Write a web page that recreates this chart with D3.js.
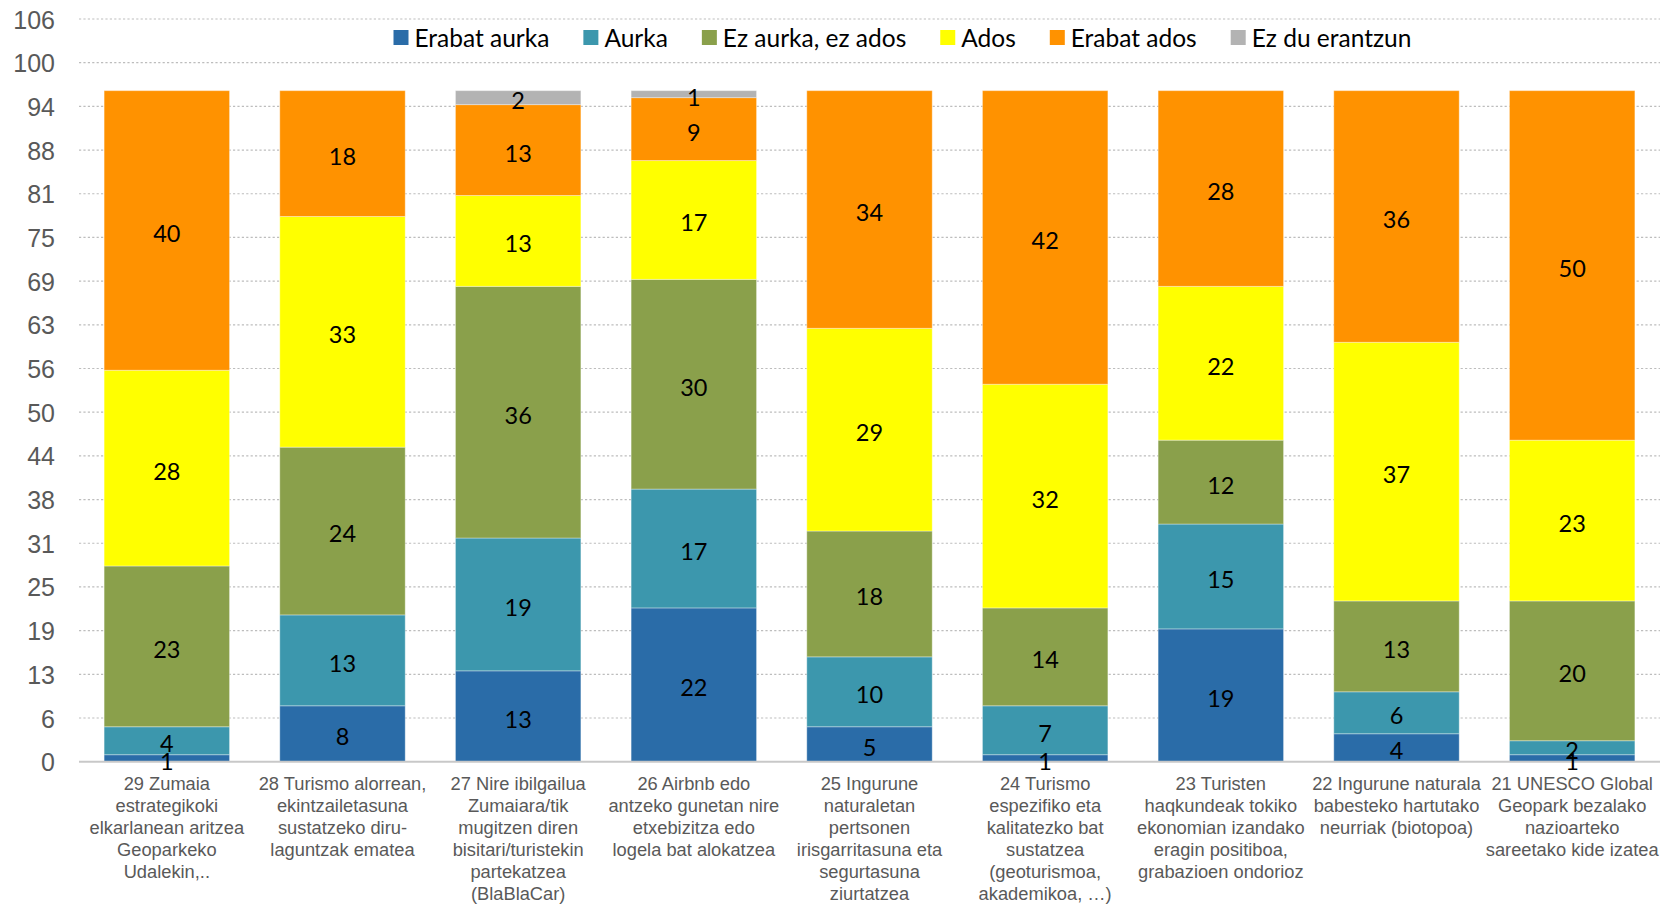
<!DOCTYPE html>
<html>
<head>
<meta charset="utf-8">
<script src="https://cdn.jsdelivr.net/npm/d3@7"></script>
<style>
  html, body { margin: 0; padding: 0; background: #fff; }
  svg { display: block; }
</style>
</head>
<body>
<svg id="chart" width="1661" height="905"></svg>
<script>
// ---- Data ----
const categories = [
  "29 Zumaia estrategikoki elkarlanean aritzea Geoparkeko Udalekin,..",
  "28 Turismo alorrean, ekintzailetasuna sustatzeko diru-laguntzak ematea",
  "27 Nire ibilgailua Zumaiara/tik mugitzen diren bisitari/turistekin partekatzea (BlaBlaCar)",
  "26 Airbnb edo antzeko gunetan nire etxebizitza edo logela bat alokatzea",
  "25 Ingurune naturaletan pertsonen irisgarritasuna eta segurtasuna ziurtatzea",
  "24 Turismo espezifiko eta kalitatezko bat sustatzea (geoturismoa, akademikoa, …)",
  "23 Turisten haqkundeak tokiko ekonomian izandako eragin positiboa, grabazioen ondorioz",
  "22 Ingurune naturala babesteko hartutako neurriak (biotopoa)",
  "21 UNESCO Global Geopark bezalako nazioarteko sareetako kide izatea"
];
const categoryLines = [
  ["29 Zumaia", "estrategikoki", "elkarlanean aritzea", "Geoparkeko", "Udalekin,.."],
  ["28 Turismo alorrean,", "ekintzailetasuna", "sustatzeko diru-", "laguntzak ematea"],
  ["27 Nire ibilgailua", "Zumaiara/tik", "mugitzen diren", "bisitari/turistekin", "partekatzea", "(BlaBlaCar)"],
  ["26 Airbnb edo", "antzeko gunetan nire", "etxebizitza edo", "logela bat alokatzea"],
  ["25 Ingurune", "naturaletan", "pertsonen", "irisgarritasuna eta", "segurtasuna", "ziurtatzea"],
  ["24 Turismo", "espezifiko eta", "kalitatezko bat", "sustatzea", "(geoturismoa,", "akademikoa, …)"],
  ["23 Turisten", "haqkundeak tokiko", "ekonomian izandako", "eragin positiboa,", "grabazioen ondorioz"],
  ["22 Ingurune naturala", "babesteko hartutako", "neurriak (biotopoa)"],
  ["21 UNESCO Global", "Geopark bezalako", "nazioarteko", "sareetako kide izatea"]
];
const seriesNames = ["Erabat aurka", "Aurka", "Ez aurka, ez ados", "Ados", "Erabat ados", "Ez du erantzun"];
const erabatAurka  = [1, 8, 13, 22, 5, 1, 19, 4, 1];
const aurka        = [4, 13, 19, 17, 10, 7, 15, 6, 2];
const ezAurkaEzAdos= [23, 24, 36, 30, 18, 14, 12, 13, 20];
const ados         = [28, 33, 13, 17, 29, 32, 22, 37, 23];
const erabatAdos   = [40, 18, 13, 9, 34, 42, 28, 36, 50];
const ezDuErantzun = [0, 0, 2, 1, 0, 0, 0, 0, 0];
const seriesColors = ["#2A6CA8", "#3C97AD", "#8AA04B", "#FFFF00", "#FF9200", "#B3B3B3"];
const yTicks = [0, 6.25, 12.5, 18.75, 25, 31.25, 37.5, 43.75, 50, 56.25, 62.5, 68.75, 75, 81.25, 87.5, 93.75, 100, 106.25];
const yTickLabels = ["0","6","13","19","25","31","38","44","50","56","63","69","75","81","88","94","100","106"];

// ---- Build table ----
const seriesValues = [erabatAurka, aurka, ezAurkaEzAdos, ados, erabatAdos, ezDuErantzun];
const table = categories.map((c, i) => {
  const row = { cat: c };
  seriesNames.forEach((s, j) => row[s] = seriesValues[j][i]);
  return row;
});
const stacked = d3.stack().keys(seriesNames)(table);

// ---- Layout ----
const svg = d3.select("#chart");
const plotLeft = 79, plotRight = 1660, plotTop = 19, plotBottom = 761.7;

const x = d3.scaleBand().domain(categories).range([plotLeft, plotRight])
  .paddingInner(0.286).paddingOuter(0.143);
const y = d3.scaleLinear().domain([0, 106.25]).range([plotBottom, plotTop]);

// gridlines
svg.append("g").selectAll("line").data(yTicks.slice(1)).join("line")
  .attr("x1", plotLeft).attr("x2", plotRight)
  .attr("y1", d => y(d)).attr("y2", d => y(d))
  .attr("stroke", "#BDBDBD").attr("stroke-width", 1.2)
  .attr("stroke-dasharray", "2.2,2.2");

// y axis labels
const yAxis = d3.axisLeft(y).tickValues(yTicks)
  .tickFormat((d, i) => yTickLabels[i]).tickSize(0).tickPadding(0);
const gy = svg.append("g").attr("transform", `translate(55,0)`).call(yAxis);
gy.select(".domain").remove();
gy.selectAll("text")
  .attr("font-family", "'Liberation Sans', Arial, sans-serif")
  .attr("font-size", "25px").attr("fill", "#595959")
  .attr("dy", "0.36em");

// bars
const layers = svg.append("g").selectAll("g").data(stacked).join("g")
  .attr("fill", (d, i) => seriesColors[i]);
layers.selectAll("rect").data(d => d).join("rect")
  .attr("x", d => x(d.data.cat))
  .attr("width", x.bandwidth())
  .attr("y", d => y(d[1]))
  .attr("height", d => Math.max(0, y(d[0]) - y(d[1])))
  .attr("stroke", "rgba(255,255,255,0.35)")
  .attr("stroke-width", 1);

// x axis baseline
svg.append("line")
  .attr("x1", plotLeft).attr("x2", plotRight)
  .attr("y1", y(0)).attr("y2", y(0))
  .attr("stroke", "#C8C8C8").attr("stroke-width", 2);

// value labels
const labelG = svg.append("g");
stacked.forEach((layer) => {
  layer.forEach(d => {
    const v = d[1] - d[0];
    if (v <= 0) return;
    labelG.append("text")
      .attr("x", x(d.data.cat) + x.bandwidth() / 2)
      .attr("y", y((d[0] + d[1]) / 2) + 3)
      .attr("text-anchor", "middle")
      .attr("dy", "0.36em")
      .attr("font-family", "Lato, 'Open Sans', sans-serif")
      .attr("font-size", "23.5px")
      .attr("fill", "#000")
      .text(v);
  });
});

// category labels
const catG = svg.append("g");
categories.forEach((c, i) => {
  const t = catG.append("text")
    .attr("x", x(c) + x.bandwidth() / 2)
    .attr("text-anchor", "middle")
    .attr("font-family", "'Liberation Sans', Arial, sans-serif")
    .attr("font-size", "18.3px")
    .attr("fill", "#595959");
  categoryLines[i].forEach((ln, k) => {
    t.append("tspan").attr("x", x(c) + x.bandwidth() / 2)
      .attr("y", 783 + k * 22.1).attr("dy", "0.36em").text(ln);
  });
});

// legend
const legend = svg.append("g");
let lx = 393.5;
seriesNames.forEach((s, i) => {
  const g = legend.append("g").attr("transform", `translate(${lx},0)`);
  g.append("rect").attr("x", 0).attr("y", 30).attr("width", 15).attr("height", 15)
    .attr("fill", seriesColors[i]);
  const t = g.append("text").attr("x", 21).attr("y", 38.5).attr("dy", "0.36em")
    .attr("font-family", "Lato, 'Open Sans', sans-serif")
    .attr("font-size", "24.5px").attr("fill", "#000").text(s);
  const w = t.node().getComputedTextLength();
  lx += 21 + w + 34;
});
</script>
</body>
</html>
